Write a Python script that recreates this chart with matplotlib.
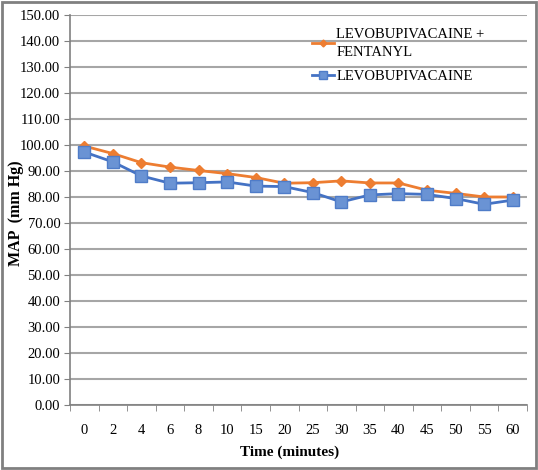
import matplotlib
matplotlib.use("Agg")
import matplotlib.pyplot as plt
from matplotlib.patches import Rectangle
import numpy as np

plt.rcParams['font.family'] = ['Liberation Serif', 'DejaVu Serif']

times = ['0', '2', '4', '6', '8', '10', '15', '20', '25', '30', '35', '40', '45', '50', '55', '60']
levo_fenta = [99.6, 96.7, 93.2, 91.5, 90.2, 89.0, 87.5, 85.3, 85.5, 86.2, 85.4, 85.4, 82.6, 81.4, 80.0, 80.0]
levo = [97.3, 93.5, 88.1, 85.3, 85.5, 85.8, 84.2, 84.0, 81.7, 78.1, 80.8, 81.3, 81.0, 79.4, 77.2, 78.8]

fig = plt.figure(figsize=(5.38, 4.70), dpi=100)
ax = fig.add_axes([70/538, 65/470, 457/538, 390/470])

x = np.arange(len(times))
ax.plot(x, levo_fenta, color='#ED7D31', linewidth=2, marker='D', markersize=5,
        markerfacecolor='#ED7D31', markeredgecolor='#ED7D31', label='LEVOBUPIVACAINE +\nFENTANYL', zorder=3)
ax.plot(x, levo, color='#4472C4', linewidth=2, marker='s', markersize=8,
        markerfacecolor='#6A93D4', markeredgecolor='#4F7CC8', label='LEVOBUPIVACAINE', zorder=4)

ax.set_xlim(-0.5, len(times) - 0.5)
ax.set_ylim(0, 150)
ax.set_yticks(np.arange(0, 151, 10))
ax.set_yticklabels([f'{v:.2f}' for v in np.arange(0, 151, 10)], fontsize=10.5)
ax.set_xticks(x)
ax.set_xticklabels(times, fontsize=10.5)
ax.set_xticks(np.arange(-0.5, len(times), 1), minor=True)
ax.tick_params(axis='x', which='major', length=0, pad=14)
ax.tick_params(axis='x', which='minor', length=4, color='#808080')
ax.tick_params(axis='y', length=4, color='#808080', pad=3)

ax.grid(axis='y', color='#A6A6A6', linewidth=1.5)
ax.set_axisbelow(True)
for s in ['top', 'right']:
    ax.spines[s].set_visible(False)
ax.spines['left'].set_color('#808080')
ax.spines['bottom'].set_color('#808080')
ax.spines['left'].set_linewidth(1.2)
ax.spines['bottom'].set_linewidth(1.2)

leg = ax.legend(loc='upper left', bbox_to_anchor=(0.5, 1.0), frameon=False, fontsize=10.5,
                handlelength=1.5, handletextpad=0.2, labelspacing=0.75, markerscale=0.7)
for t in leg.get_texts():
    t.set_linespacing(1.45)

fig.text(290/538, 1 - 452/470, 'Time (minutes)', ha='center', va='center', fontsize=11, fontweight='bold')
fig.text(16/538, 1 - 213/470, 'MAP  (mm Hg)', ha='center', va='center', rotation=90, fontsize=11.5, fontweight='bold')

fig.patches.append(Rectangle((0.004, 0.004), 0.992, 0.992, transform=fig.transFigure,
                             fill=False, edgecolor='#808080', linewidth=2))

fig.savefig('out.png', dpi=100)
